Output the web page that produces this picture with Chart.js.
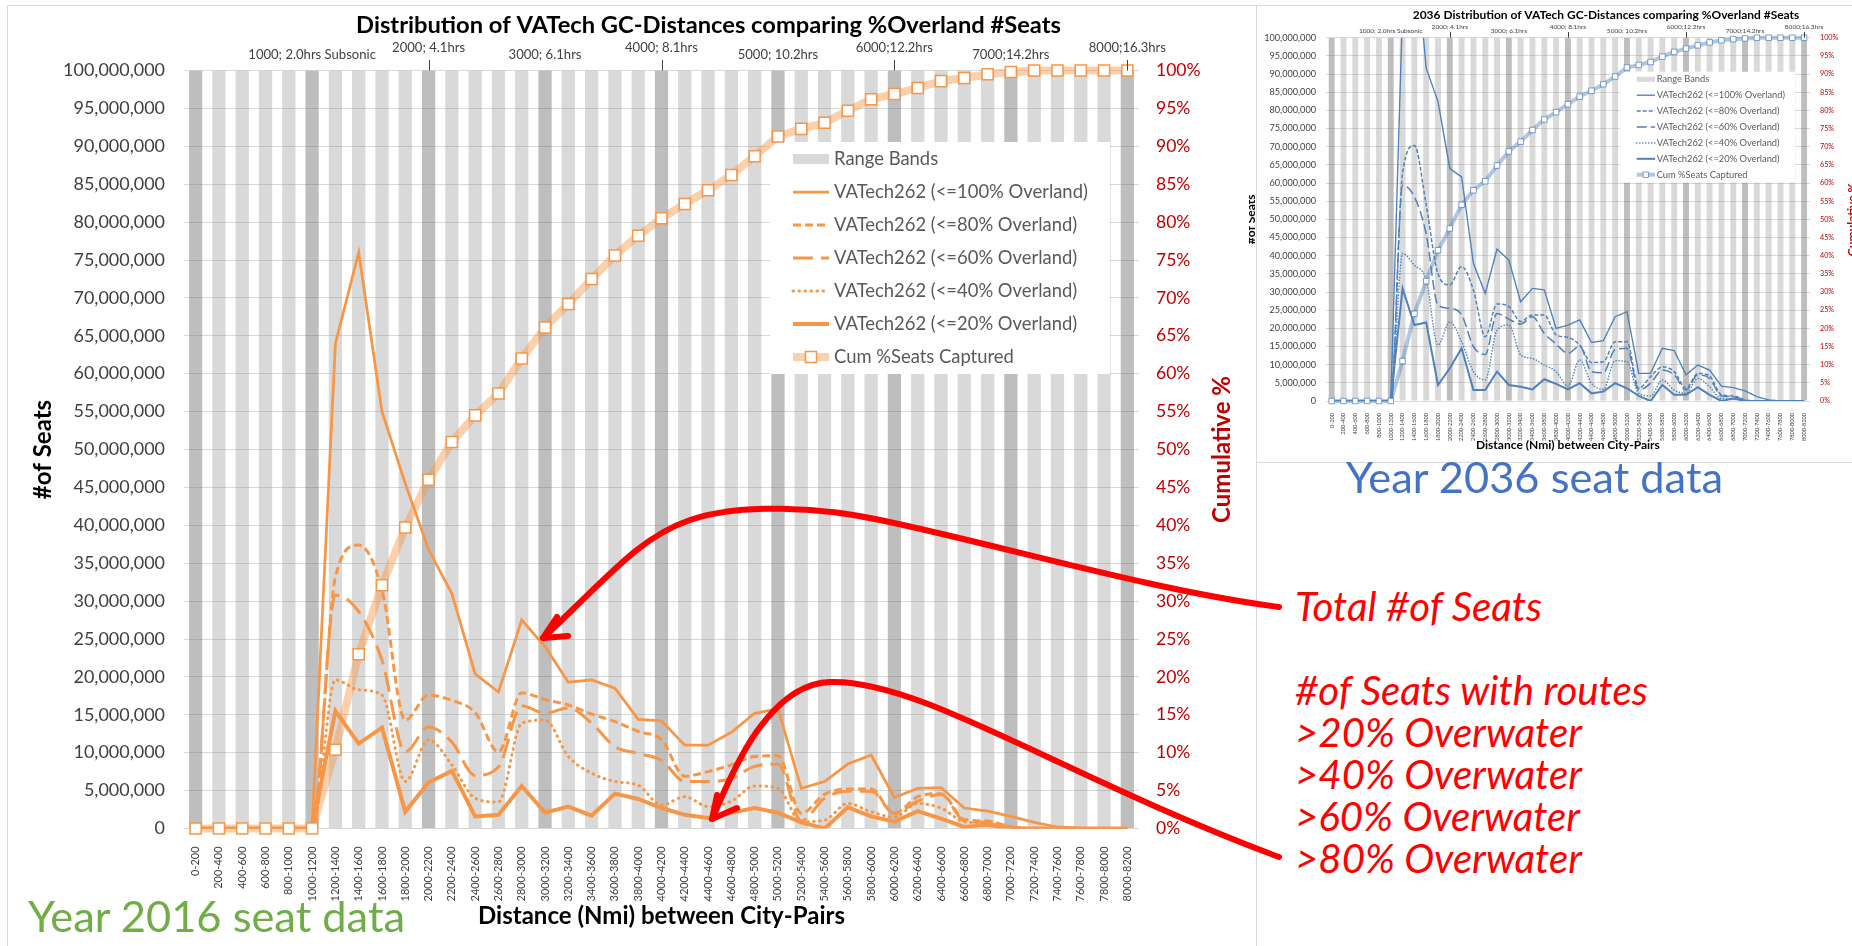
<!DOCTYPE html>
<html lang="en">
<head>
<meta charset="utf-8">
<title>Distribution of VATech GC-Distances comparing %Overland #Seats</title>
<script src="https://cdn.jsdelivr.net/npm/chart.js@4.4.1/dist/chart.umd.min.js"></script>
<style>
  html, body { margin: 0; padding: 0; background: #fff; }
  body { position: relative; width: 1852px; height: 946px; overflow: hidden; font-family: Lato, sans-serif; }
  .frame { position: absolute; box-sizing: border-box; border: 1px solid #d9d9d9; }
  #mainFrame { left: 7px; top: 5px; width: 1250px; height: 960px; }
  #insetFrame { left: 1256px; top: 5px; width: 620px; height: 458px; }
  canvas { position: absolute; }
  #mainChart { left: 8px; top: 6px; }
  #insetChart { left: 1249px; top: 6px; }
  #arrows { position: absolute; left: 0; top: 0; pointer-events: none; }
  .year { position: absolute; white-space: nowrap; line-height: 40px; }
  #year2016 { left: 28px; top: 895px; color: #70ad47; }
  #year2036 { left: 1346px; top: 456px; color: #4472c4; }
  #notes { position: absolute; left: 1295px; top: 585px; color: #ff0000; font-style: italic; line-height: 42px; white-space: nowrap; }
</style>
</head>
<body>
<div class="frame" id="mainFrame"></div>
<div class="frame" id="insetFrame"></div>
<canvas id="mainChart" width="1248" height="940"></canvas>
<canvas id="insetChart" width="603" height="456"></canvas>
<div class="year" id="year2016">Year 2016 seat data</div>
<div class="year" id="year2036">Year 2036 seat data</div>
<div id="notes">Total #of Seats<br><br>#of Seats with routes<br>&gt;20% Overwater<br>&gt;40% Overwater<br>&gt;60% Overwater<br>&gt;80% Overwater</div>
<svg id="arrows" width="1852" height="946">
  <g fill="none" stroke="#ff0000" stroke-width="6" stroke-linecap="round" stroke-linejoin="round">
    <path d="M1279 607 C1150 590 1000 545 880 520 C820 507 740 503 690 520 C640 537 610 575 543 638"/>
    <path d="M557 617 L543 638 L568 636"/>
    <path d="M1279 857 C1060 775 920 679 830 682 C760 684 722 800 712 819"/>
    <path d="M717 795 L712 819 L737 808"/>
  </g>
</svg>
<script>
// distance bins (Nmi) on the category axis
const distanceBins = ['0-200', '200-400', '400-600', '600-800', '800-1000', '1000-1200', '1200-1400', '1400-1600',
  '1600-1800', '1800-2000', '2000-2200', '2200-2400', '2400-2600', '2600-2800', '2800-3000', '3000-3200',
  '3200-3400', '3400-3600', '3600-3800', '3800-4000', '4000-4200', '4200-4400', '4400-4600', '4600-4800',
  '4800-5000', '5000-5200', '5200-5400', '5400-5600', '5600-5800', '5800-6000', '6000-6200', '6200-6400',
  '6400-6600', '6600-6800', '6800-7000', '7000-7200', '7200-7400', '7400-7600', '7600-7800', '7800-8000', '8000-8200'];

// range bands reach the top of the seats axis (millions)
const rangeBands = [100, 100, 100, 100, 100, 100, 100, 100, 100, 100, 100, 100, 100, 100, 100, 100, 100, 100, 100, 100, 100,
  100, 100, 100, 100, 100, 100, 100, 100, 100, 100, 100, 100, 100, 100, 100, 100, 100, 100, 100, 100];

// block time marks shown along the top
const rangeMarkBins = ['1000-1200', '2000-2200', '3000-3200', '4000-4200', '5000-5200', '6000-6200', '7000-7200', '8000-8200'];
const rangeMarkLabels = ['1000; 2.0hrs Subsonic', '2000; 4.1hrs', '3000; 6.1hrs', '4000; 8.1hrs', '5000; 10.2hrs',
  '6000;12.2hrs', '7000;14.2hrs', '8000;16.3hrs'];

// year 2016, seats in millions
const seats2016_le100 = [0, 0, 0, 0, 0, 0, 64.0, 76.0, 55.0, 45.5, 36.8, 31.0, 20.4, 18.0, 27.5, 24.0, 19.3, 19.6, 18.5, 14.4,
  14.2, 11.0, 11.0, 12.7, 15.2, 15.8, 5.3, 6.2, 8.5, 9.7, 4.1, 5.3, 5.4, 2.7, 2.3, 1.6, 0.8, 0.2, 0.05, 0, 0];
const seats2016_le80 = [0, 0, 0, 0, 0, 0, 33.2, 37.4, 31.5, 14.3, 17.6, 16.9, 15.3, 10.1, 17.9, 17.0, 16.3, 15.1, 14.1, 12.8,
  11.7, 6.9, 7.5, 8.4, 9.5, 9.6, 2.0, 4.5, 5.2, 5.2, 2.0, 4.2, 4.6, 1.2, 1.0, 0.2, 0, 0, 0, 0, 0];
const seats2016_le60 = [0, 0, 0, 0, 0, 0, 30.8, 28.6, 22.2, 10.1, 13.4, 11.4, 7.0, 8.1, 16.2, 15.2, 15.9, 13.9, 10.8, 9.9,
  9.0, 6.2, 6.2, 6.6, 8.2, 8.5, 1.0, 4.0, 4.9, 4.9, 2.0, 3.6, 4.5, 1.0, 0.8, 0.2, 0, 0, 0, 0, 0];
const seats2016_le40 = [0, 0, 0, 0, 0, 0, 19.6, 18.3, 17.6, 6.2, 11.7, 8.4, 4.0, 3.5, 13.9, 14.3, 9.5, 7.3, 6.2, 5.7,
  3.1, 4.2, 2.9, 3.6, 5.6, 5.3, 0.9, 1.1, 3.3, 2.2, 1.5, 3.3, 2.7, 0.9, 0.7, 0.1, 0, 0, 0, 0, 0];
const seats2016_le20 = [0, 0, 0, 0, 0, 0, 15.5, 11.2, 13.3, 2.2, 6.1, 7.6, 1.6, 1.8, 5.6, 2.1, 2.9, 1.7, 4.6, 3.9,
  2.7, 1.8, 1.4, 2.1, 2.7, 2.1, 0.8, 0, 2.8, 1.6, 0.9, 2.3, 1.3, 0.2, 0.5, 0, 0, 0, 0, 0, 0];
const cum2016 = [0, 0, 0, 0, 0, 0, 10.4, 23.0, 32.1, 39.7, 46.0, 51.0, 54.5, 57.4, 62.0, 66.1, 69.2, 72.5, 75.6, 78.2,
  80.5, 82.4, 84.2, 86.2, 88.7, 91.3, 92.3, 93.1, 94.7, 96.2, 96.9, 97.7, 98.6, 99.0, 99.5, 99.8, 100, 100, 100, 100, 100];

// year 2036, seats in millions
const seats2036_le100 = [0, 0, 0, 0, 0, 0, 108, 128, 91.6, 82.4, 64.0, 61.7, 37.9, 29.6, 41.8, 38.8, 27.3, 31.0, 30.6, 20.0,
  20.9, 22.3, 16.1, 16.6, 23.2, 24.6, 7.6, 7.6, 14.5, 13.9, 7.2, 9.9, 8.5, 4.1, 3.7, 2.8, 1.2, 0.3, 0, 0, 0];
const seats2036_le80 = [0, 0, 0, 0, 0, 0, 62.7, 70.3, 54.0, 35.0, 32.0, 37.0, 30.5, 17.7, 26.7, 26.0, 21.9, 23.7, 23.7, 18.2,
  17.5, 15.4, 10.6, 10.8, 16.3, 16.3, 3.5, 6.7, 9.4, 8.1, 3.5, 7.6, 6.9, 1.7, 1.4, 0.3, 0, 0, 0, 0, 0];
const seats2036_le60 = [0, 0, 0, 0, 0, 0, 59.4, 56.2, 46.0, 26.4, 25.5, 23.7, 15.0, 12.8, 24.1, 22.5, 21.2, 23.2, 18.6, 15.7,
  13.1, 15.1, 8.1, 7.8, 14.2, 14.5, 3.0, 4.9, 8.5, 7.2, 3.0, 7.2, 6.2, 1.4, 1.2, 0.2, 0, 0, 0, 0, 0];
const seats2036_le40 = [0, 0, 0, 0, 0, 0, 40.6, 37.4, 33.3, 15.4, 21.8, 16.3, 8.1, 5.8, 19.5, 20.9, 12.7, 11.7, 9.9, 8.1,
  4.1, 11.3, 4.9, 3.2, 11.1, 10.8, 2.1, 1.4, 5.8, 3.0, 2.1, 6.2, 3.9, 0.7, 0.7, 0, 0, 0, 0, 0, 0];
const seats2036_le20 = [0, 0, 0, 0, 0, 0, 31.0, 20.9, 21.6, 4.4, 9.0, 14.5, 3.0, 3.0, 8.1, 4.4, 3.9, 3.2, 6.0, 4.7,
  3.2, 4.9, 2.1, 2.6, 4.9, 3.5, 1.4, 0, 4.4, 1.7, 1.7, 3.8, 1.7, 0, 0.7, 0, 0, 0, 0, 0, 0];
const cum2036 = [0, 0, 0, 0, 0, 0, 11.0, 24.0, 33.0, 41.5, 47.5, 54.0, 58.0, 60.5, 64.8, 68.7, 71.4, 74.6, 77.5, 79.5,
  81.7, 83.8, 85.4, 87.2, 89.3, 91.8, 92.5, 93.3, 94.8, 96.1, 97.0, 97.9, 98.7, 99.3, 99.6, 99.8, 100, 100, 100, 100, 100];

// font size that makes a text as wide as in the picture
const meas = document.createElement('canvas').getContext('2d');
function fitSize(text, width, style) {
  meas.font = (style || '') + ' 100px Lato';
  return +(100 * width / meas.measureText(text).width).toFixed(2);
}

function drawLegend(chart, L) {
  const ctx = chart.ctx;
  ctx.save();
  ctx.fillStyle = '#fff';
  ctx.fillRect(L.x, L.y, L.w, L.h);
  ctx.font = L.size + 'px Lato';
  ctx.textBaseline = 'middle';
  ctx.textAlign = 'left';
  chart.data.datasets.forEach((ds, i) => {
    const y = L.firstY + i * L.gap;
    if (ds.type === 'bar') {
      ctx.fillStyle = '#d9d9d9';
      ctx.fillRect(L.swX, y - L.swH / 2, L.swW, L.swH);
    } else {
      ctx.strokeStyle = ds.borderColor;
      ctx.lineWidth = ds.borderWidth;
      ctx.lineCap = ds.borderCapStyle || 'butt';
      ctx.setLineDash(ds.borderDash || []);
      ctx.beginPath();
      ctx.moveTo(L.swX, y);
      ctx.lineTo(L.swX + L.swW, y);
      ctx.stroke();
      ctx.setLineDash([]);
      if (ds.pointRadius) {
        const s = ds.pointRadius * Math.SQRT1_2;
        const cx = L.swX + L.swW / 2;
        ctx.fillStyle = ds.pointBackgroundColor;
        ctx.strokeStyle = ds.pointBorderColor;
        ctx.lineWidth = ds.pointBorderWidth;
        ctx.fillRect(cx - s, y - s, 2 * s, 2 * s);
        ctx.strokeRect(cx - s, y - s, 2 * s, 2 * s);
      }
    }
    ctx.fillStyle = '#595959';
    ctx.fillText(ds.label, L.textX, y);
  });
  ctx.restore();
}

function decorPlugin(d) {
  return {
    id: 'decor',
    afterDatasetDraw(chart, args) {
      if (args.index === 0) drawLegend(chart, d.legend); // legend box sits over the bands only
    },
    afterDraw(chart) {
      const ctx = chart.ctx, area = chart.chartArea, xs = chart.scales.x;
      ctx.save();
      ctx.textAlign = 'center';
      ctx.textBaseline = 'middle';
      ctx.fillStyle = '#000';
      ctx.font = 'bold ' + d.titleSize + 'px Lato';
      ctx.fillText(d.title, d.titleX, d.titleY);

      ctx.font = d.markSize + 'px Lato';
      ctx.fillStyle = '#404040';
      ctx.strokeStyle = '#404040';
      ctx.lineWidth = 1;
      rangeMarkBins.forEach((bin, k) => {
        const px = xs.getPixelForValue(distanceBins.indexOf(bin));
        const high = k % 2 === 1;
        ctx.fillText(rangeMarkLabels[k], px, high ? d.markHighY : d.markLowY);
        if (high) {
          ctx.beginPath();
          ctx.moveTo(Math.round(px) + 0.5, d.markTickY);
          ctx.lineTo(Math.round(px) + 0.5, area.top);
          ctx.stroke();
        }
      });

      ctx.font = 'bold ' + d.axisTitleSize + 'px Lato';
      ctx.fillStyle = '#000';
      ctx.fillText('Distance (Nmi) between City-Pairs', (area.left + area.right) / 2, d.xTitleY);
      const midY = (area.top + area.bottom) / 2;
      [[d.yTitleX, '#of Seats', '#000'], [d.y1TitleX, 'Cumulative %', '#c00000']].forEach(([tx, txt, col]) => {
        ctx.save();
        ctx.translate(tx, midY);
        ctx.rotate(-Math.PI / 2);
        ctx.fillStyle = col;
        ctx.fillText(txt, 0, 0);
        ctx.restore();
      });
      ctx.restore();
    }
  };
}

function makeChart(id, s, look) {
  const k = look.k;
  const line = (label, data, extra) => Object.assign({
    type: 'line', label: label, data: data, yAxisID: 'y', borderColor: look.color,
    pointRadius: 0, pointHoverRadius: 0, tension: 0
  }, extra);
  return new Chart(document.getElementById(id), {
    data: {
      labels: distanceBins,
      datasets: [
        { type: 'bar', label: 'Range Bands', data: rangeBands, yAxisID: 'y',
          backgroundColor: distanceBins.map((b, i) => i % 5 === 0 ? 'rgba(110,110,110,0.45)' : 'rgba(140,140,140,0.33)'),
          barPercentage: look.bar, categoryPercentage: 1, order: 10 },
        line('VATech262 (<=100% Overland)', s.le100, { borderWidth: 2.75 * k, order: 5 }),
        line('VATech262 (<=80% Overland)', s.le80, { borderWidth: 3 * k, borderDash: [8 * k, 4 * k], cubicInterpolationMode: 'monotone', order: 4 }),
        line('VATech262 (<=60% Overland)', s.le60, { borderWidth: 3 * k, borderDash: [20 * k, 8 * k], cubicInterpolationMode: 'monotone', order: 3 }),
        line('VATech262 (<=40% Overland)', s.le40, { borderWidth: 3 * k, borderDash: [0.5 * k, 5.5 * k], borderCapStyle: 'round', cubicInterpolationMode: 'monotone', order: 2 }),
        line('VATech262 (<=20% Overland)', s.le20, { borderWidth: 4 * k, order: 1 }),
        line('Cum %Seats Captured', s.cum, { yAxisID: 'y1', borderColor: look.cumLine, borderWidth: 8 * k,
          pointStyle: 'rect', pointRadius: 7.8 * k, pointHoverRadius: 7.8 * k, pointBackgroundColor: '#fff',
          pointBorderColor: look.color, pointBorderWidth: 1.5 * k, clip: false, order: 0 })
      ]
    },
    options: {
      responsive: false,
      animation: false,
      devicePixelRatio: 1,
      events: [],
      layout: { padding: { top: look.padTop, left: 0, right: 0, bottom: 0 } },
      plugins: { legend: { display: false }, tooltip: { enabled: false } },
      scales: {
        x: {
          grid: { display: false },
          border: { display: false },
          ticks: { autoSkip: false, minRotation: 90, maxRotation: 90, padding: look.xPad, color: '#404040',
            font: { family: 'Lato', size: look.binSize } },
          afterFit: sc => { sc.height = look.xHeight; }
        },
        y: {
          min: 0, max: 100,
          grid: { color: '#d9d9d9', lineWidth: 1, drawTicks: false },
          border: { display: false },
          ticks: { stepSize: 5, padding: look.yPad, color: '#404040', font: { family: 'Lato', size: look.tickSize },
            callback: v => (v * 1e6).toLocaleString('en-US') },
          afterFit: sc => { sc.width = look.yWidth; }
        },
        y1: {
          position: 'right', min: 0, max: 100,
          grid: { display: false, drawTicks: false },
          border: { display: false },
          ticks: { stepSize: 5, padding: look.y1Pad, color: '#c00000', font: { family: 'Lato', size: look.pctSize },
            callback: v => v + '%' },
          afterFit: sc => { sc.width = look.y1Width; }
        }
      }
    },
    plugins: [decorPlugin(look)]
  });
}

const mainTitle = 'Distribution of VATech GC-Distances comparing %Overland #Seats';
const insetTitle = '2036 Distribution of VATech GC-Distances comparing %Overland #Seats';
const xTitle = 'Distance (Nmi) between City-Pairs';
const legendSample = 'VATech262 (<=100% Overland)';

makeChart('mainChart',
  { le100: seats2016_le100, le80: seats2016_le80, le60: seats2016_le60, le40: seats2016_le40, le20: seats2016_le20, cum: cum2016 },
  {
    k: 1, color: '#f79646', cumLine: 'rgba(247,150,70,0.45)', bar: 0.57,
    padTop: 64.5, yWidth: 176, y1Width: 117, xHeight: 117.5, yPad: 19, y1Pad: 17, xPad: 10,
    tickSize: fitSize('100,000,000', 102), pctSize: fitSize('100%', 44.6), binSize: fitSize('1000-1200', 55),
    title: mainTitle, titleSize: fitSize(mainTitle, 705, 'bold'), titleX: 700.5, titleY: 19,
    markSize: fitSize('2000; 4.1hrs', 73), markHighY: 42, markLowY: 49, markTickY: 54,
    axisTitleSize: fitSize(xTitle, 367, 'bold'), xTitleY: 910, yTitleX: 35.5, y1TitleX: 1214,
    legend: { x: 762, y: 136, w: 340, h: 232, firstY: 153, gap: 33, swX: 785, swW: 36, swH: 10, textX: 826,
      size: fitSize(legendSample, 254) }
  });

// the 2036 picture is cut off at its left and right edges
makeChart('insetChart',
  { le100: seats2036_le100, le80: seats2036_le80, le60: seats2036_le60, le40: seats2036_le40, le20: seats2036_le20, cum: cum2036 },
  {
    k: 0.5, color: '#4f81bd', cumLine: 'rgba(79,129,189,0.45)', bar: 0.5,
    padTop: 31.7, yWidth: 76.8, y1Width: 42, xHeight: 61, yPad: 9.8, y1Pad: 10, xPad: 4,
    tickSize: fitSize('100,000,000', 51.8), pctSize: fitSize('100%', 18.3), binSize: fitSize('1000-1200', 28),
    title: insetTitle, titleSize: fitSize(insetTitle, 387, 'bold'), titleX: 357, titleY: 9,
    markSize: fitSize('2000; 4.1hrs', 36.5), markHighY: 21.3, markLowY: 24.5, markTickY: 26,
    axisTitleSize: fitSize(xTitle, 184, 'bold'), xTitleY: 439, yTitleX: 2, y1TitleX: 603,
    legend: { x: 371.4, y: 65.7, w: 174.6, h: 111, firstY: 73.3, gap: 15.9, swX: 387.7, swW: 18.3, swH: 5, textX: 407.7,
      size: fitSize(legendSample, 128.3) }
  });

document.querySelectorAll('.year').forEach(el => { el.style.fontSize = fitSize('Year 2016 seat data', 378) + 'px'; });
document.getElementById('notes').style.fontSize = fitSize('>20% Overwater', 287, 'italic') + 'px';
</script>
</body>
</html>
